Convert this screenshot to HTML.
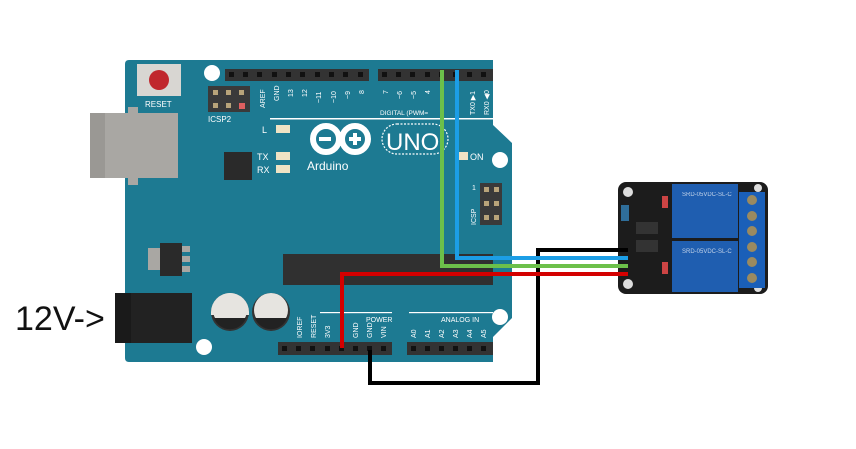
<!DOCTYPE html>
<html><head><meta charset="utf-8"><style>
html,body{margin:0;padding:0;background:#fff;width:856px;height:449px;overflow:hidden}
svg{display:block}
text{font-family:"Liberation Sans",sans-serif}
</style></head><body>
<svg width="856" height="449" viewBox="0 0 856 449" xmlns="http://www.w3.org/2000/svg">
<!-- board -->
<path d="M129,60 L493,60 L493,125 L512,143 L512,318 L493,337 L493,362 L129,362 Q125,362 125,358 L125,64 Q125,60 129,60 Z" fill="#1d7a92"/>
<!-- holes -->
<circle cx="212" cy="73" r="8" fill="#fff"/>
<circle cx="500" cy="160" r="8" fill="#fff"/>
<circle cx="500" cy="317" r="8" fill="#fff"/>
<circle cx="204" cy="347" r="8" fill="#fff"/>
<!-- USB -->
<rect x="90" y="113" width="88" height="65" fill="#a9a7a3"/>
<rect x="90" y="113" width="15" height="65" fill="#9a9894"/>
<rect x="128" y="107" width="10" height="6" fill="#a9a7a3"/>
<rect x="128" y="178" width="10" height="7" fill="#a9a7a3"/>
<!-- reset -->
<rect x="137" y="64" width="44" height="32" fill="#d8d6d2"/>
<circle cx="159" cy="80" r="10" fill="#c0272d"/>
<text x="145" y="107" font-size="8" fill="#fff">RESET</text>
<!-- ICSP2 -->
<rect x="208" y="86" width="42" height="26" fill="#3a3a3a"/>
<g fill="#b8a47a"><rect x="213" y="90" width="5" height="5"/><rect x="226" y="90" width="5" height="5"/><rect x="239" y="90" width="5" height="5"/><rect x="213" y="103" width="5" height="5"/><rect x="226" y="103" width="5" height="5"/></g>
<rect x="239" y="103" width="6" height="6" fill="#e06060"/>
<text x="208" y="122" font-size="8" fill="#fff">ICSP2</text>
<!-- top headers -->
<rect x="225" y="69" width="144" height="12" fill="#333"/>
<rect x="378" y="69" width="115" height="12" fill="#333"/>
<g fill="#111">
<rect x="229" y="72" width="5" height="5"/><rect x="243" y="72" width="5" height="5"/><rect x="257" y="72" width="5" height="5"/><rect x="272" y="72" width="5" height="5"/><rect x="286" y="72" width="5" height="5"/><rect x="300" y="72" width="5" height="5"/><rect x="315" y="72" width="5" height="5"/><rect x="329" y="72" width="5" height="5"/><rect x="343" y="72" width="5" height="5"/><rect x="358" y="72" width="5" height="5"/>
<rect x="382" y="72" width="5" height="5"/><rect x="396" y="72" width="5" height="5"/><rect x="410" y="72" width="5" height="5"/><rect x="425" y="72" width="5" height="5"/><rect x="439" y="72" width="5" height="5"/><rect x="453" y="72" width="5" height="5"/><rect x="467" y="72" width="5" height="5"/><rect x="481" y="72" width="5" height="5"/>
</g>
<g font-size="7" fill="#fff">
<text transform="translate(265,108) rotate(-90)">AREF</text>
<text transform="translate(279,101) rotate(-90)">GND</text>
<text transform="translate(293,97) rotate(-90)">13</text>
<text transform="translate(307,97) rotate(-90)">12</text>
<text transform="translate(321,103) rotate(-90)">~11</text>
<text transform="translate(336,103) rotate(-90)">~10</text>
<text transform="translate(350,99) rotate(-90)">~9</text>
<text transform="translate(364,94) rotate(-90)">8</text>
<text transform="translate(388,94) rotate(-90)">7</text>
<text transform="translate(402,99) rotate(-90)">~6</text>
<text transform="translate(416,99) rotate(-90)">~5</text>
<text transform="translate(430,94) rotate(-90)">4</text>
<text transform="translate(475,115) rotate(-90)">TX0 ▶1</text>
<text transform="translate(489,115) rotate(-90)">RX0 ◀0</text>
<text x="380" y="115" font-size="6.5">DIGITAL (PWM=</text>
</g>
<rect x="270" y="118" width="223" height="1.5" fill="#fff"/>
<!-- LEDs -->
<text x="262" y="133" font-size="9" fill="#fff">L</text>
<rect x="276" y="125" width="14" height="8" fill="#efe3c4"/>
<text x="257" y="160" font-size="9" fill="#fff">TX</text>
<rect x="276" y="152" width="14" height="8" fill="#efe3c4"/>
<text x="257" y="173" font-size="9" fill="#fff">RX</text>
<rect x="276" y="165" width="14" height="8" fill="#efe3c4"/>
<rect x="224" y="152" width="28" height="28" fill="#2a2a2a"/>
<!-- logo -->
<g fill="none" stroke="#fff" stroke-width="6"><circle cx="326" cy="139" r="13"/><circle cx="355" cy="139" r="13"/></g>
<rect x="319" y="137" width="12" height="4" fill="#fff"/>
<rect x="349" y="137" width="12" height="4" fill="#fff"/><rect x="353" y="133" width="4" height="12" fill="#fff"/>
<text x="307" y="170" font-size="12" fill="#fff">Arduino</text>
<rect x="382" y="124" width="66" height="30" rx="15" fill="none" stroke="#fff" stroke-width="1.2" stroke-dasharray="2,1.5"/>
<text x="386" y="150" font-size="24" fill="#fff">UNO</text>
<rect x="458" y="152" width="10" height="8" fill="#efe3c4"/>
<text x="470" y="160" font-size="9" fill="#fff">ON</text>
<!-- ICSP -->
<text x="472" y="190" font-size="7" fill="#fff">1</text>
<rect x="480" y="183" width="22" height="42" fill="#3a3a3a"/>
<g fill="#b8a47a"><rect x="484" y="187" width="5" height="5"/><rect x="494" y="187" width="5" height="5"/><rect x="484" y="201" width="5" height="5"/><rect x="494" y="201" width="5" height="5"/><rect x="484" y="215" width="5" height="5"/><rect x="494" y="215" width="5" height="5"/></g>
<text transform="translate(476,225) rotate(-90)" font-size="7" fill="#fff">ICSP</text>
<!-- chip -->
<rect x="283" y="254" width="210" height="31" fill="#303030"/>
<!-- regulator -->
<rect x="148" y="248" width="12" height="22" fill="#a9a7a3"/>
<rect x="160" y="243" width="22" height="33" fill="#2a2a2a"/>
<g fill="#a9a7a3"><rect x="182" y="246" width="8" height="6"/><rect x="182" y="256" width="8" height="6"/><rect x="182" y="266" width="8" height="6"/></g>
<!-- jack -->
<rect x="115" y="293" width="77" height="50" fill="#222"/>
<rect x="115" y="293" width="16" height="50" fill="#1a1a1a"/>
<!-- caps -->
<circle cx="230" cy="312" r="19" fill="#333"/><path d="M211,312 A19,19 0 0 1 249,312 L249,315 L211,315Z" fill="#e6e4e0"/><circle cx="230" cy="310" r="17" fill="#e6e4e0"/><path d="M214,318 A17,17 0 0 0 246,318Z" fill="#222"/>
<circle cx="271" cy="312" r="19" fill="#333"/><circle cx="271" cy="310" r="17" fill="#e6e4e0"/><path d="M255,318 A17,17 0 0 0 287,318Z" fill="#222"/>
<!-- bottom headers -->
<rect x="278" y="342" width="114" height="13" fill="#333"/>
<rect x="407" y="342" width="86" height="13" fill="#333"/>
<g fill="#111"><rect x="282" y="346" width="5" height="5"/><rect x="296" y="346" width="5" height="5"/><rect x="310" y="346" width="5" height="5"/><rect x="325" y="346" width="5" height="5"/><rect x="339" y="346" width="5" height="5"/><rect x="353" y="346" width="5" height="5"/><rect x="367" y="346" width="5" height="5"/><rect x="381" y="346" width="5" height="5"/>
<rect x="411" y="346" width="5" height="5"/><rect x="425" y="346" width="5" height="5"/><rect x="439" y="346" width="5" height="5"/><rect x="453" y="346" width="5" height="5"/><rect x="467" y="346" width="5" height="5"/><rect x="481" y="346" width="5" height="5"/></g>
<rect x="320" y="312" width="72" height="1.2" fill="#fff"/><rect x="409" y="312" width="84" height="1.2" fill="#fff"/>
<text x="366" y="322" font-size="7" fill="#fff">POWER</text>
<text x="441" y="322" font-size="7" fill="#fff">ANALOG IN</text>
<g font-size="7" fill="#fff">
<text transform="translate(302,338) rotate(-90)">IOREF</text>
<text transform="translate(316,338) rotate(-90)">RESET</text>
<text transform="translate(330,338) rotate(-90)">3V3</text>
<text transform="translate(358,338) rotate(-90)">GND</text>
<text transform="translate(372,338) rotate(-90)">GND</text>
<text transform="translate(386,338) rotate(-90)">VIN</text>
<text transform="translate(416,338) rotate(-90)">A0</text>
<text transform="translate(430,338) rotate(-90)">A1</text>
<text transform="translate(444,338) rotate(-90)">A2</text>
<text transform="translate(458,338) rotate(-90)">A3</text>
<text transform="translate(472,338) rotate(-90)">A4</text>
<text transform="translate(486,338) rotate(-90)">A5</text>
</g>
<!-- relay module -->
<rect x="618" y="182" width="150" height="112" rx="8" fill="#1c1c1c"/>
<circle cx="628" cy="192" r="5" fill="#ddd"/><circle cx="628" cy="284" r="5" fill="#ddd"/><circle cx="758" cy="188" r="4" fill="#ddd"/><circle cx="758" cy="288" r="4" fill="#ddd"/>
<rect x="672" y="184" width="66" height="54" fill="#1f5eb0"/>
<rect x="672" y="241" width="66" height="51" fill="#1f5eb0"/>
<rect x="739" y="192" width="26" height="96" fill="#1a5fb8"/>
<g fill="#9a8a60"><circle cx="752" cy="200" r="5"/><circle cx="752" cy="216" r="5"/><circle cx="752" cy="231" r="5"/><circle cx="752" cy="247" r="5"/><circle cx="752" cy="262" r="5"/><circle cx="752" cy="278" r="5"/></g>
<rect x="636" y="222" width="22" height="12" fill="#333"/><rect x="636" y="240" width="22" height="12" fill="#333"/>
<rect x="621" y="205" width="8" height="16" fill="#2f6e9a"/>
<rect x="662" y="196" width="6" height="12" fill="#c44"/><rect x="662" y="262" width="6" height="12" fill="#c44"/>
<g fill="none" stroke="#fff" stroke-width="1" opacity="0.7"><text x="682" y="196" font-size="6" fill="#fff" stroke="none">SRD-05VDC-SL-C</text><text x="682" y="253" font-size="6" fill="#fff" stroke="none">SRD-05VDC-SL-C</text></g>
<!-- wires -->
<g fill="none" stroke-width="4" stroke-linejoin="miter">
<path d="M370,350 L370,383 L538,383 L538,250 L628,250" stroke="#000"/>
<path d="M457,70 L457,258 L628,258" stroke="#1c9ee6"/>
<path d="M442,70 L442,266 L628,266" stroke="#6cc04a"/>
<path d="M342,348 L342,274 L628,274" stroke="#d40000"/>
</g>
<text x="15" y="330" font-size="34" fill="#111">12V-&gt;</text>
</svg>
</body></html>
